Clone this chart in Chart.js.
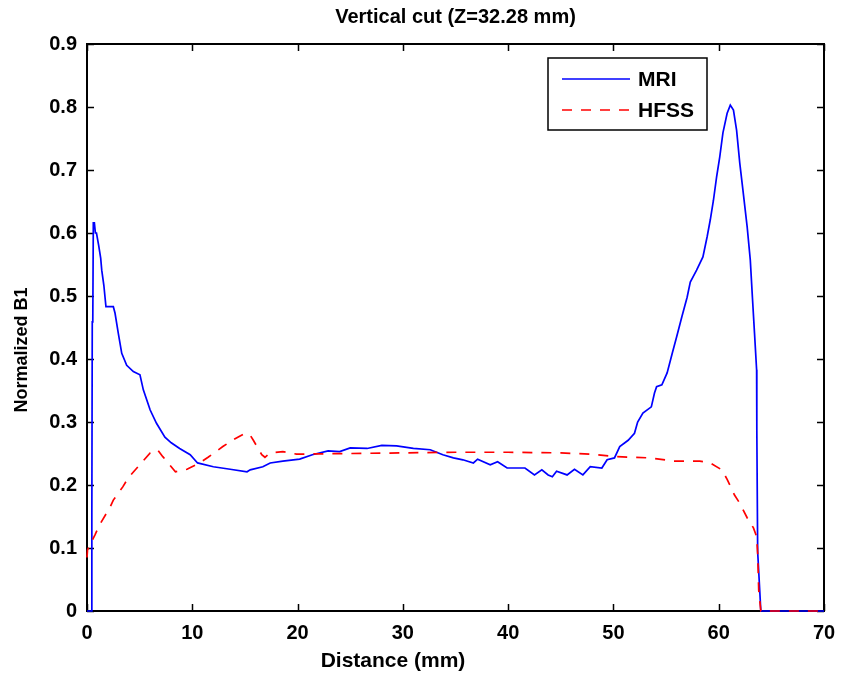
<!DOCTYPE html>
<html>
<head>
<meta charset="utf-8">
<script src="https://cdn.jsdelivr.net/npm/chart.js@4/dist/chart.umd.min.js"></script>
<style>
    body { margin: 0; background: #ffffff; }
    #wrap { width: 843px; height: 678px; }
</style>
</head>
<body>
<div id="wrap"><canvas id="b1Chart" width="843" height="678"></canvas></div>
<script>
// Vertical cut profile
const mriX = [0, 0.45, 0.46, 0.5, 0.55, 0.6, 0.7, 0.8, 0.9, 1.1, 1.3, 1.4, 1.6, 1.8, 2.5, 2.66, 2.97, 3.3, 3.77, 4.4,
    5.03, 5.35, 6.0, 6.6, 7.4, 8.0, 8.8, 9.8, 10.5, 12.0, 13.6, 15.2, 15.5, 16.7, 17.4, 18.6, 20.2, 21.4, 22.9, 24.0,
    25.0, 26.6, 28.0, 29.4, 31.0, 32.6, 33.8, 34.8, 35.7, 36.7, 37.1, 38.3, 39.0, 39.9, 40.8, 41.6, 42.5, 43.2, 43.8, 44.2,
    44.6, 45.6, 46.3, 47.1, 47.8, 48.9, 49.4, 50.1, 50.6, 51.4, 52.0, 52.3, 52.8, 53.6, 53.9, 54.1, 54.6, 55.1, 55.6, 56.0,
    56.5, 57.0, 57.3, 57.9, 58.5, 58.9, 59.2, 59.5, 59.8, 60.1, 60.4, 60.8, 61.1, 61.4, 61.7, 62.0, 62.3, 62.7, 63.0, 63.2,
    63.4, 63.6, 63.62, 63.7, 64.0, 70];
const mriY = [0, 0, 0.156, 0.459, 0.46, 0.616, 0.616, 0.60, 0.60, 0.581, 0.56, 0.541, 0.517, 0.483, 0.483, 0.473, 0.441, 0.409, 0.39, 0.38,
    0.375, 0.351, 0.319, 0.298, 0.276, 0.267, 0.258, 0.248, 0.235, 0.229, 0.225, 0.221, 0.224, 0.229, 0.235, 0.238, 0.241, 0.248, 0.254, 0.253,
    0.259, 0.258, 0.263, 0.262, 0.258, 0.256, 0.248, 0.243, 0.240, 0.235, 0.241, 0.232, 0.237, 0.227, 0.227, 0.227, 0.216, 0.224, 0.216, 0.213,
    0.222, 0.216, 0.225, 0.216, 0.229, 0.227, 0.240, 0.243, 0.261, 0.271, 0.282, 0.300, 0.314, 0.324, 0.346, 0.356, 0.359, 0.378, 0.41, 0.435,
    0.467, 0.498, 0.522, 0.541, 0.562, 0.594, 0.621, 0.652, 0.689, 0.721, 0.759, 0.79, 0.803, 0.795, 0.763, 0.711, 0.668, 0.61, 0.557, 0.498,
    0.441, 0.383, 0.287, 0.094, 0, 0];

const hfssX = [0, 0.05, 0.76, 1.2, 2.2, 2.5, 3.4, 3.9, 5.0, 6.0, 6.7, 7.2, 8.4, 9.5, 10.7, 11.5, 12.9, 13.8, 15.0, 15.5,
    15.8, 16.6, 16.9, 17.4, 18.6, 19.9, 25, 30, 35, 40, 45, 47.8, 50.3, 53.5, 55.7, 58.2, 59.2, 60.3, 60.8, 61.5,
    62.0, 62.7, 63.3, 63.6, 63.7, 63.8, 64.0, 70];
const hfssY = [0.085, 0.097, 0.121, 0.137, 0.165, 0.176, 0.197, 0.211, 0.232, 0.251, 0.256, 0.245, 0.221, 0.225, 0.235, 0.244, 0.261, 0.271, 0.282, 0.279,
    0.271, 0.248, 0.244, 0.251, 0.253, 0.249, 0.25, 0.251, 0.252, 0.252, 0.251, 0.249, 0.245, 0.243, 0.238, 0.238, 0.235, 0.224, 0.209, 0.184,
    0.171, 0.148, 0.132, 0.118, 0.092, 0.033, 0, 0];

const xTicks = [0, 10, 20, 30, 40, 50, 60, 70];
const yTicks = [0, 0.1, 0.2, 0.3, 0.4, 0.5, 0.6, 0.7, 0.8, 0.9];
const seriesNames = ['MRI', 'HFSS'];
const xLabel = 'Distance (mm)';
const yLabel = 'Normalized B1';

const blue = '#0000ff';
const red = '#ff0000';
const fontFamily = 'Arial, "Liberation Sans", Helvetica, sans-serif';

function toPoints(xs, ys) {
    return xs.map((x, i) => ({ x: x, y: ys[i] }));
}

// box around the plot plus inward tick marks on every side (drawn under the lines)
const frameTicks = {
    id: 'frameTicks',
    beforeDatasetsDraw(chart) {
        const { ctx, chartArea: a, scales } = chart;
        const len = 7;
        ctx.save();
        ctx.strokeStyle = '#000000';
        ctx.lineWidth = 1.5;
        ctx.beginPath();
        xTicks.forEach(v => {
            const px = Math.round(scales.x.getPixelForValue(v)) + 0.5;
            ctx.moveTo(px, a.bottom); ctx.lineTo(px, a.bottom - len);
            ctx.moveTo(px, a.top); ctx.lineTo(px, a.top + len);
        });
        yTicks.forEach(v => {
            const py = Math.round(scales.y.getPixelForValue(v)) + 0.5;
            ctx.moveTo(a.left, py); ctx.lineTo(a.left + len, py);
            ctx.moveTo(a.right, py); ctx.lineTo(a.right - len, py);
        });
        ctx.stroke();
        ctx.lineWidth = 2;
        ctx.strokeRect(a.left, a.top, a.right - a.left, a.bottom - a.top);
        ctx.restore();
    }
};

// axis labels, placed where the original figure has them
const axisLabels = {
    id: 'axisLabels',
    afterDraw(chart) {
        const { ctx } = chart;
        ctx.save();
        ctx.fillStyle = '#000000';
        ctx.textAlign = 'center';
        ctx.textBaseline = 'middle';
        ctx.font = 'bold 21px ' + fontFamily;
        ctx.fillText(xLabel, 393, 661);
        ctx.translate(22, 350);
        ctx.rotate(-Math.PI / 2);
        ctx.font = 'bold 18px ' + fontFamily;
        ctx.fillText(yLabel, 0, 0);
        ctx.restore();
    }
};

// legend box in the top right of the plot
const boxLegend = {
    id: 'boxLegend',
    afterDraw(chart) {
        const { ctx, chartArea: a } = chart;
        const left = 548, top = a.top + 14, w = 159, h = 72;
        ctx.save();
        ctx.fillStyle = '#ffffff';
        ctx.fillRect(left, top, w, h);
        ctx.strokeStyle = '#000000';
        ctx.lineWidth = 1.5;
        ctx.strokeRect(left, top, w, h);
        const rows = [
            { name: seriesNames[0], color: blue, dash: [] },
            { name: seriesNames[1], color: red, dash: [10, 9] }
        ];
        rows.forEach((r, i) => {
            const y = top + 21 + i * 31;
            ctx.strokeStyle = r.color;
            ctx.lineWidth = 1.5;
            ctx.setLineDash(r.dash);
            ctx.beginPath();
            ctx.moveTo(left + 14, y);
            ctx.lineTo(left + 82, y);
            ctx.stroke();
            ctx.setLineDash([]);
            ctx.fillStyle = '#000000';
            ctx.font = 'bold 21px ' + fontFamily;
            ctx.textBaseline = 'middle';
            ctx.textAlign = 'left';
            ctx.fillText(r.name, left + 90, y + 1);
        });
        ctx.restore();
    }
};

const ctx = document.getElementById('b1Chart').getContext('2d');
new Chart(ctx, {
    type: 'line',
    data: {
        datasets: [{
            label: seriesNames[0],
            data: toPoints(mriX, mriY),
            borderColor: blue,
            borderWidth: 1.7,
            pointRadius: 0,
            fill: false,
            tension: 0,
            clip: 3,
            order: 2
        }, {
            label: seriesNames[1],
            data: toPoints(hfssX, hfssY),
            borderColor: red,
            borderWidth: 1.7,
            borderDash: [10, 9],
            pointRadius: 0,
            fill: false,
            tension: 0,
            clip: 3,
            order: 1
        }]
    },
    options: {
        responsive: false,
        animation: false,
        layout: { padding: { top: 0, right: 19, left: 0, bottom: 0 } },
        plugins: {
            legend: { display: false },
            tooltip: { enabled: false },
            title: {
                display: true,
                text: 'Vertical cut (Z=32.28 mm)',
                fullSize: false,
                color: '#000000',
                font: { family: fontFamily, size: 20, weight: 'bold' },
                padding: { top: 5, bottom: 15 }
            }
        },
        scales: {
            x: {
                type: 'linear',
                min: 0,
                max: 70,
                afterBuildTicks: scale => { scale.ticks = xTicks.map(v => ({ value: v })); },
                afterFit: scale => {
                    scale.height = 67;
                    scale.paddingLeft = 0;
                    scale.paddingRight = 0;
                },
                grid: { display: false, drawTicks: false },
                border: { display: false },
                ticks: {
                    padding: 10,
                    color: '#000000',
                    font: { family: fontFamily, size: 20, weight: 'bold' }
                }
            },
            y: {
                type: 'linear',
                min: 0,
                max: 0.9,
                afterBuildTicks: scale => { scale.ticks = yTicks.map(v => ({ value: v })); },
                afterFit: scale => {
                    scale.width = 87;
                    scale.paddingTop = 0;
                    scale.paddingBottom = 0;
                },
                grid: { display: false, drawTicks: false },
                border: { display: false },
                ticks: {
                    padding: 10,
                    color: '#000000',
                    font: { family: fontFamily, size: 20, weight: 'bold' },
                    callback: v => String(Math.round(v * 10) / 10)
                }
            }
        }
    },
    plugins: [frameTicks, axisLabels, boxLegend]
});
</script>
</body>
</html>
